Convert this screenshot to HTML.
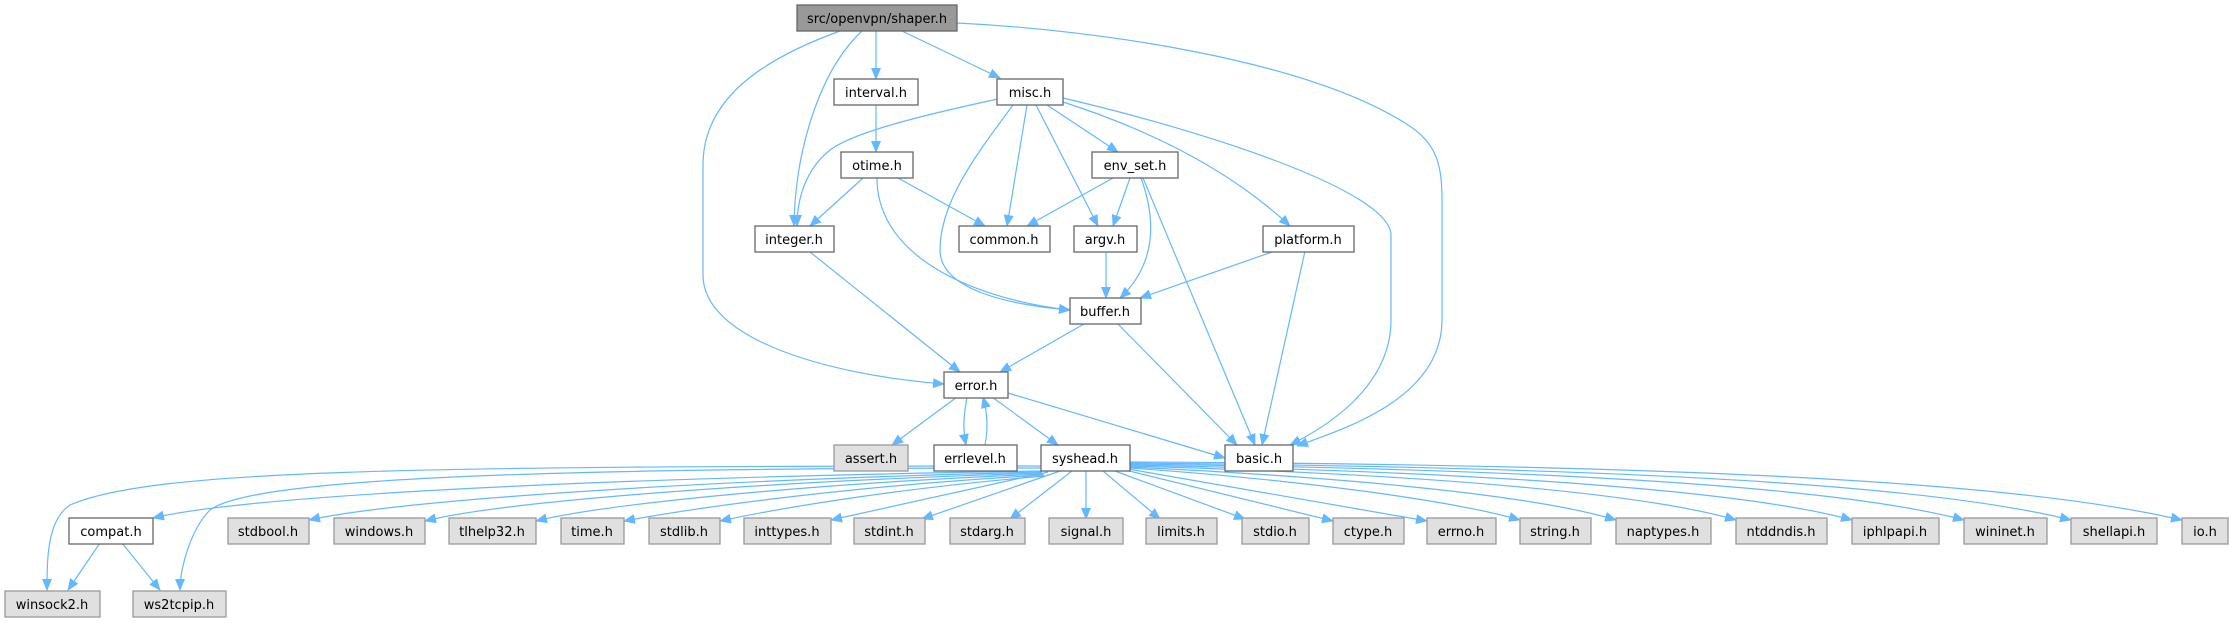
<!DOCTYPE html>
<html><head><meta charset="utf-8"><style>
html,body{margin:0;padding:0;background:#fff;}
svg{display:block;}
text{font-family:"DejaVu Sans","Liberation Sans",sans-serif;font-size:13px;fill:#000;text-anchor:middle;}
.e{fill:none;stroke:#63b8ff;stroke-width:1.2;}
.w{fill:#fff;stroke:#666;stroke-width:1.3;}
.g{fill:#e0e0e0;stroke:#999;stroke-width:1.3;}
.r{fill:#999;stroke:#666;stroke-width:1.3;}
</style></head><body>
<svg width="2229" height="623" viewBox="0 0 2229 623" xmlns="http://www.w3.org/2000/svg">
<defs><marker id="a" markerUnits="userSpaceOnUse" markerWidth="12" markerHeight="10" refX="11" refY="5" orient="auto"><path d="M0,0 L12,5 L0,10 z" fill="#63b8ff"/></marker></defs>
<g class="e" marker-end="url(#a)">
<path d="M876,31 L876,79"/>
<path d="M902,31 L1000,78"/>
<path d="M862,31 C820,70 795,150 794,226"/>
<path d="M840,31 C760,60 703,100 703,165 L703,275 C703,340 830,375 944,384"/>
<path d="M957,23 C1100,30 1300,60 1400,120 C1435,140 1442,160 1442,200 L1442,320 C1442,400 1340,430 1297,446"/>
<path d="M876,105 L876,152"/>
<path d="M998,99 C900,120 850,135 830,150 C805,170 797,200 797,226"/>
<path d="M1013,105 C980,150 940,200 940,250 C940,290 1010,305 1070,310"/>
<path d="M1027,105 L1007,226"/>
<path d="M1036,105 L1098,226"/>
<path d="M1047,105 L1118,152"/>
<path d="M1063,102 C1150,130 1230,170 1290,226"/>
<path d="M1063,98 C1200,130 1390,190 1391,235 L1391,320 C1391,390 1320,430 1290,445"/>
<path d="M863,178 L810,226"/>
<path d="M898,178 L985,226"/>
<path d="M877,178 C877,260 980,300 1070,310"/>
<path d="M1113,178 L1027,226"/>
<path d="M1130,178 L1113,226"/>
<path d="M1141,178 C1160,230 1150,270 1120,298"/>
<path d="M1143,178 L1255,445"/>
<path d="M1106,251 L1106,298"/>
<path d="M1275,251 L1140,298"/>
<path d="M1305,251 L1262,445"/>
<path d="M810,252 L960,372"/>
<path d="M1084,324 L1000,372"/>
<path d="M1118,324 L1237,445"/>
<path d="M957,397 L892,445"/>
<path d="M967,397 C963,420 963,430 966,445"/>
<path d="M985,445 C988,430 988,415 983,397"/>
<path d="M992,397 L1058,445"/>
<path d="M1008,393 L1225,458"/>
<path d="M100,543 L68,590"/>
<path d="M122,543 L160,590"/>
<path d="M1041,466 C400,466 150,470 70,505 C47,520 47,560 47,590"/>
<path d="M1041,468 C500,468 250,480 210,510 C190,530 180,570 180,590"/>
<path d="M1041,471 C600,478 250,495 153,518"/>
<path d="M1042,472 C700,480 400,500 309,520"/>
<path d="M1042,473 C750,482 500,502 425,521"/>
<path d="M1043,474 C800,484 600,505 536,521"/>
<path d="M1044,475 C850,486 700,507 624,521"/>
<path d="M1045,476 C900,488 780,508 720,521"/>
<path d="M1048,472 L831,520"/>
<path d="M1060,471 L922,519"/>
<path d="M1072,471 L1010,519"/>
<path d="M1086,471 L1086,519"/>
<path d="M1103,471 L1160,519"/>
<path d="M1115,471 L1245,519"/>
<path d="M1125,470 L1333,521"/>
<path d="M1128,469 L1427,521"/>
<path d="M1130,468 C1300,480 1450,500 1520,520"/>
<path d="M1130,467 C1400,480 1550,500 1616,520"/>
<path d="M1130,466 C1450,475 1650,495 1736,520"/>
<path d="M1130,465 C1500,472 1750,492 1852,520"/>
<path d="M1130,464 C1600,470 1850,490 1964,520"/>
<path d="M1130,463 C1700,468 1950,490 2071,520"/>
<path d="M1130,462 C1800,465 2050,490 2182,520"/>
</g>
<g>
<rect class="r" x="797" y="5" width="160" height="26"/><text x="877" y="23">src/openvpn/shaper.h</text>
<rect class="w" x="834" y="79" width="84" height="26"/><text x="876" y="97">interval.h</text>
<rect class="w" x="997" y="79" width="66" height="26"/><text x="1030" y="97">misc.h</text>
<rect class="w" x="841" y="152" width="72" height="26"/><text x="877" y="170">otime.h</text>
<rect class="w" x="1092" y="152" width="86" height="26"/><text x="1135" y="170">env_set.h</text>
<rect class="w" x="755" y="226" width="79" height="26"/><text x="794" y="244">integer.h</text>
<rect class="w" x="959" y="226" width="91" height="26"/><text x="1004" y="244">common.h</text>
<rect class="w" x="1074" y="226" width="63" height="26"/><text x="1105" y="244">argv.h</text>
<rect class="w" x="1263" y="226" width="91" height="26"/><text x="1308" y="244">platform.h</text>
<rect class="w" x="1070" y="298" width="71" height="26"/><text x="1105" y="316">buffer.h</text>
<rect class="w" x="944" y="372" width="64" height="26"/><text x="976" y="390">error.h</text>
<rect class="g" x="834" y="445" width="74" height="26"/><text x="871" y="463">assert.h</text>
<rect class="w" x="934" y="445" width="83" height="26"/><text x="975" y="463">errlevel.h</text>
<rect class="w" x="1041" y="445" width="89" height="26"/><text x="1085" y="463">syshead.h</text>
<rect class="w" x="1225" y="445" width="68" height="26"/><text x="1259" y="463">basic.h</text>
<rect class="w" x="69" y="518" width="84" height="26"/><text x="111" y="536">compat.h</text>
<rect class="g" x="228" y="518" width="81" height="26"/><text x="268" y="536">stdbool.h</text>
<rect class="g" x="334" y="518" width="91" height="26"/><text x="379" y="536">windows.h</text>
<rect class="g" x="449" y="518" width="87" height="26"/><text x="492" y="536">tlhelp32.h</text>
<rect class="g" x="561" y="518" width="63" height="26"/><text x="592" y="536">time.h</text>
<rect class="g" x="649" y="518" width="71" height="26"/><text x="684" y="536">stdlib.h</text>
<rect class="g" x="744" y="518" width="87" height="26"/><text x="787" y="536">inttypes.h</text>
<rect class="g" x="854" y="518" width="71" height="26"/><text x="889" y="536">stdint.h</text>
<rect class="g" x="950" y="518" width="75" height="26"/><text x="987" y="536">stdarg.h</text>
<rect class="g" x="1049" y="518" width="74" height="26"/><text x="1086" y="536">signal.h</text>
<rect class="g" x="1146" y="518" width="71" height="26"/><text x="1181" y="536">limits.h</text>
<rect class="g" x="1242" y="518" width="67" height="26"/><text x="1275" y="536">stdio.h</text>
<rect class="g" x="1333" y="518" width="71" height="26"/><text x="1368" y="536">ctype.h</text>
<rect class="g" x="1427" y="518" width="69" height="26"/><text x="1461" y="536">errno.h</text>
<rect class="g" x="1520" y="518" width="71" height="26"/><text x="1555" y="536">string.h</text>
<rect class="g" x="1616" y="518" width="95" height="26"/><text x="1663" y="536">naptypes.h</text>
<rect class="g" x="1736" y="518" width="91" height="26"/><text x="1781" y="536">ntddndis.h</text>
<rect class="g" x="1852" y="518" width="87" height="26"/><text x="1895" y="536">iphlpapi.h</text>
<rect class="g" x="1964" y="518" width="83" height="26"/><text x="2005" y="536">wininet.h</text>
<rect class="g" x="2071" y="518" width="86" height="26"/><text x="2114" y="536">shellapi.h</text>
<rect class="g" x="2182" y="518" width="46" height="26"/><text x="2205" y="536">io.h</text>
<rect class="g" x="5" y="591" width="95" height="26"/><text x="52" y="609">winsock2.h</text>
<rect class="g" x="133" y="591" width="93" height="26"/><text x="179" y="609">ws2tcpip.h</text>
</g>
</svg>
</body></html>
